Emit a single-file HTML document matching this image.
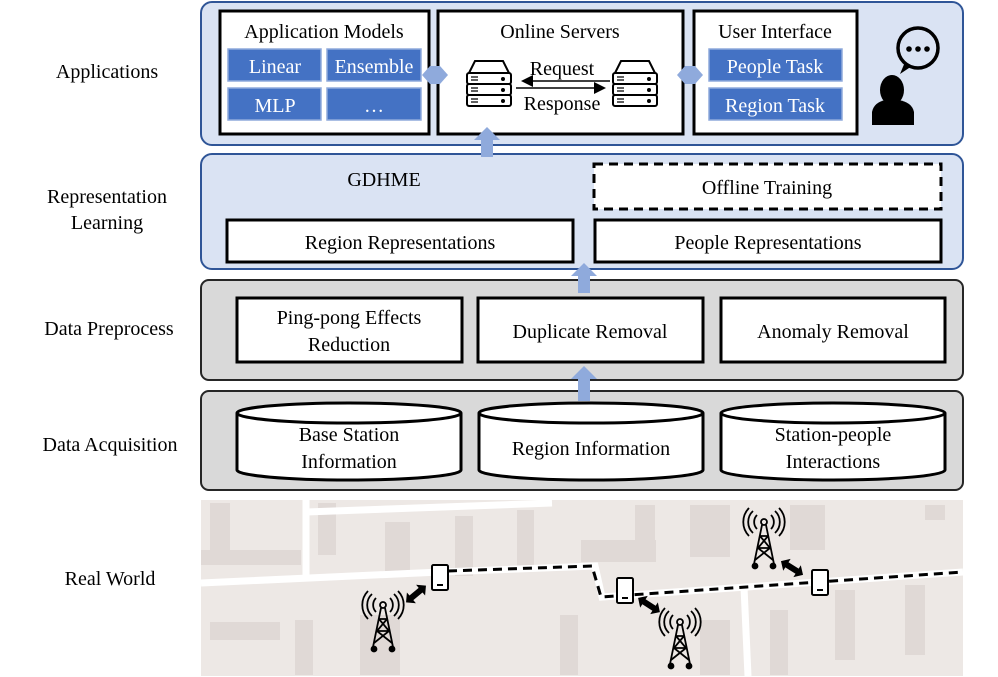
<!DOCTYPE html>
<html><head><meta charset="utf-8"><style>
html,body{margin:0;padding:0;background:#fff}
svg{display:block}
text{font-family:"Liberation Serif",serif;font-size:20px;fill:#000}
</style></head><body>
<svg width="998" height="677" viewBox="0 0 998 677" xmlns="http://www.w3.org/2000/svg">
<defs>
<g id="srv">
  <path d="M4,12 L10,0 L38,0 L44,12 Z" fill="#fff" stroke="#000" stroke-width="2"/>
  <rect x="2" y="12" width="44" height="11" rx="2" fill="#fff" stroke="#000" stroke-width="2"/>
  <rect x="2" y="23" width="44" height="11" rx="2" fill="#fff" stroke="#000" stroke-width="2"/>
  <rect x="2" y="34" width="44" height="11" rx="2" fill="#fff" stroke="#000" stroke-width="2"/>
  <path d="M6,16h7M6,19h7M6,27h7M6,30h7M6,38h7M6,41h7" stroke="#000" stroke-width="1.3"/>
  <circle cx="38" cy="18" r="2" fill="#000"/><circle cx="38" cy="29" r="2" fill="#000"/><circle cx="38" cy="40" r="2" fill="#000"/>
</g>
<g id="tower" fill="none" stroke="#000" stroke-width="1.8">
  <circle cx="0" cy="0" r="3"/>
  <path d="M-7,-7 A10,10 0 0 0 -7,7 M7,-7 A10,10 0 0 1 7,7"/>
  <path d="M-11,-11 A15,15 0 0 0 -11,11 M11,-11 A15,15 0 0 1 11,11"/>
  <path d="M-15,-14 A20,20 0 0 0 -15,14 M15,-14 A20,20 0 0 1 15,14"/>
  <path d="M-2,3 L-10,42 M2,3 L10,42 M-4,14 L6,26 M4,14 L-6,26 M-6,26 L9,38 M6,26 L-9,38 M-4,14h8 M-6,26h12"/>
  <circle cx="-9" cy="44" r="2.5" fill="#000"/><circle cx="9" cy="44" r="2.5" fill="#000"/>
</g>
<g id="phone">
  <rect x="0" y="0" width="16" height="25" rx="1.5" fill="#fff" stroke="#000" stroke-width="2"/>
  <path d="M5,20h6" stroke="#000" stroke-width="2"/>
</g>
<path id="dbl" d="M-13,0 L-6,-7 L-6,-3 L6,-3 L6,-7 L13,0 L6,7 L6,3 L-6,3 L-6,7 Z" fill="#000"/>
<marker id="ah" markerWidth="8" markerHeight="8" refX="6" refY="4" orient="auto"><path d="M0,0 L8,4 L0,8Z" fill="#000"/></marker>
</defs>

<!-- left labels -->
<text x="107" y="78" text-anchor="middle">Applications</text>
<text x="107" y="203" text-anchor="middle">Representation</text>
<text x="107" y="229" text-anchor="middle">Learning</text>
<text x="109" y="335" text-anchor="middle">Data Preprocess</text>
<text x="110" y="451" text-anchor="middle">Data Acquisition</text>
<text x="110" y="585" text-anchor="middle">Real World</text>

<!-- Applications layer -->
<rect x="201" y="2" width="762" height="143" rx="11" fill="#dae3f3" stroke="#2f5597" stroke-width="2"/>
<rect x="220" y="11" width="209" height="123" fill="#fff" stroke="#000" stroke-width="3"/>
<rect x="438" y="11" width="245" height="123" fill="#fff" stroke="#000" stroke-width="3"/>
<rect x="694" y="11" width="163" height="123" fill="#fff" stroke="#000" stroke-width="3"/>
<text x="324" y="38" text-anchor="middle">Application Models</text>
<text x="560" y="38" text-anchor="middle">Online Servers</text>
<text x="775" y="38" text-anchor="middle">User Interface</text>
<g stroke="#8faadc" stroke-width="1.5" fill="#4472c4">
<rect x="228" y="49" width="93" height="32"/><rect x="327" y="49" width="94" height="32"/>
<rect x="228" y="88" width="93" height="32"/><rect x="327" y="88" width="94" height="32"/>
<rect x="709" y="49" width="133" height="32"/><rect x="709" y="88" width="133" height="32"/>
</g>
<text x="275" y="73" text-anchor="middle" style="fill:#fff">Linear</text>
<text x="374" y="73" text-anchor="middle" style="fill:#fff">Ensemble</text>
<text x="275" y="112" text-anchor="middle" style="fill:#fff">MLP</text>
<text x="374" y="112" text-anchor="middle" style="fill:#fff">…</text>
<text x="775" y="73" text-anchor="middle" style="fill:#fff">People Task</text>
<text x="775" y="112" text-anchor="middle" style="fill:#fff">Region Task</text>
<path d="M422,75 L430,66 L440,66 L448,75 L440,84 L430,84 Z" fill="#8faadc"/>
<path d="M677,75 L685,66 L695,66 L703,75 L695,84 L685,84 Z" fill="#8faadc"/>
<use href="#srv" x="465" y="61"/>
<use href="#srv" x="611" y="61"/>
<line x1="610" y1="81" x2="524" y2="81" stroke="#000" stroke-width="1.5" marker-end="url(#ah)"/>
<line x1="516" y1="88" x2="603" y2="88" stroke="#000" stroke-width="1.5" marker-end="url(#ah)"/>
<text x="562" y="75" text-anchor="middle">Request</text>
<text x="562" y="110" text-anchor="middle">Response</text>
<g>
<circle cx="918" cy="48" r="20" fill="#dae3f3" stroke="#000" stroke-width="3.5"/>
<path d="M905,62 L900,74 L912,66 Z" fill="#000"/>
<circle cx="909" cy="49" r="2.8" fill="#000"/><circle cx="918" cy="49" r="2.8" fill="#000"/><circle cx="927" cy="49" r="2.8" fill="#000"/>
<ellipse cx="892" cy="90" rx="12" ry="15" fill="#000"/>
<path d="M872,125 L872,112 Q874,102 886,100 L898,100 Q912,102 914,112 L914,125 Z" fill="#000"/>
</g>

<!-- Representation Learning -->
<rect x="201" y="154" width="762" height="115" rx="11" fill="#dae3f3" stroke="#2f5597" stroke-width="2"/>
<text x="384" y="186" text-anchor="middle">GDHME</text>
<rect x="594" y="164" width="347" height="45" fill="#fff" stroke="#000" stroke-width="3" stroke-dasharray="9,6"/>
<text x="767" y="194" text-anchor="middle">Offline Training</text>
<rect x="227" y="220" width="346" height="42" fill="#fff" stroke="#000" stroke-width="3"/>
<text x="400" y="249" text-anchor="middle">Region Representations</text>
<rect x="595" y="220" width="346" height="42" fill="#fff" stroke="#000" stroke-width="3"/>
<text x="768" y="249" text-anchor="middle">People Representations</text>

<!-- Data Preprocess -->
<rect x="201" y="280" width="762" height="100" rx="8" fill="#d9d9d9" stroke="#262626" stroke-width="2"/>
<rect x="237" y="298" width="225" height="64" fill="#fff" stroke="#000" stroke-width="3"/>
<text x="349" y="324" text-anchor="middle">Ping-pong Effects</text>
<text x="349" y="351" text-anchor="middle">Reduction</text>
<rect x="478" y="298" width="225" height="64" fill="#fff" stroke="#000" stroke-width="3"/>
<text x="590" y="338" text-anchor="middle">Duplicate Removal</text>
<rect x="721" y="298" width="224" height="64" fill="#fff" stroke="#000" stroke-width="3"/>
<text x="833" y="338" text-anchor="middle">Anomaly Removal</text>

<!-- Data Acquisition -->
<rect x="201" y="391" width="762" height="99" rx="8" fill="#d9d9d9" stroke="#262626" stroke-width="2"/>
<g fill="#fff" stroke="#000" stroke-width="3">
<path d="M237,413 A112,10 0 0 1 461,413 L461,470 A112,10 0 0 1 237,470 Z"/>
<path d="M237,413 A112,10 0 0 0 461,413" fill="none"/>
<path d="M479,413 A112,10 0 0 1 703,413 L703,470 A112,10 0 0 1 479,470 Z"/>
<path d="M479,413 A112,10 0 0 0 703,413" fill="none"/>
<path d="M721,413 A112,10 0 0 1 945,413 L945,470 A112,10 0 0 1 721,470 Z"/>
<path d="M721,413 A112,10 0 0 0 945,413" fill="none"/>
</g>
<text x="349" y="441" text-anchor="middle">Base Station</text>
<text x="349" y="468" text-anchor="middle">Information</text>
<text x="591" y="455" text-anchor="middle">Region Information</text>
<text x="833" y="441" text-anchor="middle">Station-people</text>
<text x="833" y="468" text-anchor="middle">Interactions</text>

<!-- up arrows (on top) -->
<path d="M487,127 L500,140 L493,140 L493,157 L481,157 L481,140 L474,140 Z" fill="#8faadc"/>
<path d="M584,263 L597,276 L590,276 L590,293 L578,293 L578,276 L571,276 Z" fill="#8faadc"/>
<path d="M584,366 L597,379 L590,379 L590,401 L578,401 L578,379 L571,379 Z" fill="#8faadc"/>

<!-- Real World map -->
<rect x="201" y="500" width="762" height="176" fill="#ede8e5"/>
<g fill="#e0d9d6">
<rect x="210" y="503" width="20" height="55"/><rect x="318" y="503" width="18" height="52"/>
<rect x="385" y="522" width="25" height="55"/><rect x="455" y="516" width="18" height="60"/>
<rect x="517" y="510" width="17" height="58"/><rect x="581" y="540" width="75" height="22"/>
<rect x="635" y="505" width="20" height="50"/><rect x="690" y="505" width="40" height="52"/>
<rect x="790" y="505" width="35" height="45"/><rect x="925" y="505" width="20" height="15"/>
<rect x="210" y="622" width="70" height="18"/><rect x="295" y="620" width="18" height="55"/>
<rect x="360" y="615" width="40" height="60"/><rect x="560" y="615" width="18" height="60"/>
<rect x="700" y="620" width="30" height="55"/><rect x="770" y="610" width="18" height="65"/>
<rect x="835" y="590" width="20" height="70"/><rect x="905" y="585" width="20" height="70"/>
<rect x="201" y="550" width="100" height="15"/>
</g>
<g stroke="#fff" fill="none" stroke-width="7">
<path d="M201,583 L440,572 L595,566 L602,597 L963,572"/>
<path d="M306,500 L306,578"/>
<path d="M306,512 L552,503"/>
<path d="M744,587 L748,676"/>
</g>
<path d="M448,571 L592,566 L601,597 L963,572" fill="none" stroke="#000" stroke-width="3" stroke-dasharray="9,6"/>
<use href="#tower" x="383" y="605"/>
<use href="#tower" x="680" y="622"/>
<use href="#tower" x="764" y="522"/>
<use href="#phone" x="432" y="565"/>
<use href="#phone" x="617" y="578"/>
<use href="#phone" x="812" y="570"/>
<use href="#dbl" transform="translate(416,594) rotate(-40)"/>
<use href="#dbl" transform="translate(649,605) rotate(33)"/>
<use href="#dbl" transform="translate(792,568) rotate(32)"/>
</svg>
</body></html>
